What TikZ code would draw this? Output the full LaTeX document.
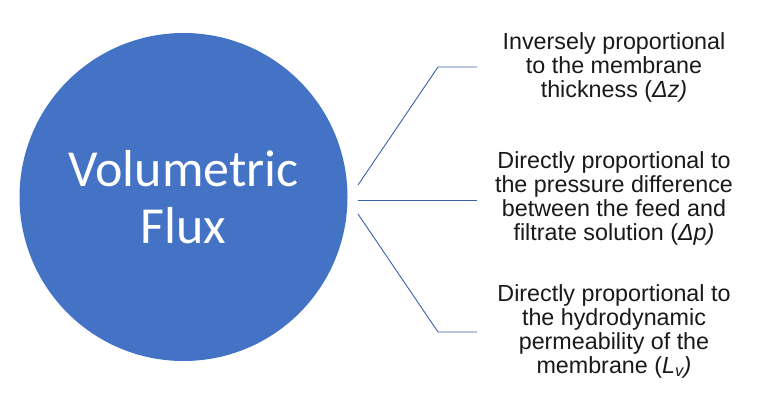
\documentclass[tikz,border=0pt]{standalone}
\usepackage{fontspec}
\setmainfont{Liberation Sans}
\newfontfamily\calib{Carlito}
\definecolor{officeblue}{HTML}{4472C4}
\begin{document}
\begin{tikzpicture}[x=1pt,y=-1pt,
  bubble/.style={circle,fill=officeblue,minimum size=328pt,inner sep=0pt,text=white,align=center,
    font=\calib\fontsize{52}{57}\selectfont},
  info/.style={align=center,text=black!90,inner sep=0pt,font=\fontsize{23.3}{24}\selectfont},
  conn/.style={draw=officeblue!85!black,line width=0.9pt}]
\useasboundingbox (0,0) rectangle (768,401);
\node[bubble] (flux) at (183.5,197) {Volumetric\\Flux};
\node[info] (t1) at (614,67) {Inversely proportional\\to the membrane\\thickness (\textit{Δz)}};
\node[info] (t2) at (614,198) {Directly proportional to\\the pressure difference\\between the feed and\\filtrate solution (\textit{Δp)}};
\node[info] (t3) at (614,331) {Directly proportional to\\the hydrodynamic\\permeability of the\\membrane (\textit{L\textsubscript{v})}};
\coordinate (s1) at (358,185);
\coordinate (k1) at (438,67);
\coordinate (e1) at (477,67);
\coordinate (s2) at (358,200);
\coordinate (e2) at (477,200);
\coordinate (s3) at (358,214);
\coordinate (k3) at (438,332);
\coordinate (e3) at (477,332);
\draw[conn] (s1) -- (k1) -- (e1);
\draw[conn] (s2) -- (e2);
\draw[conn] (s3) -- (k3) -- (e3);
\end{tikzpicture}
\end{document}
